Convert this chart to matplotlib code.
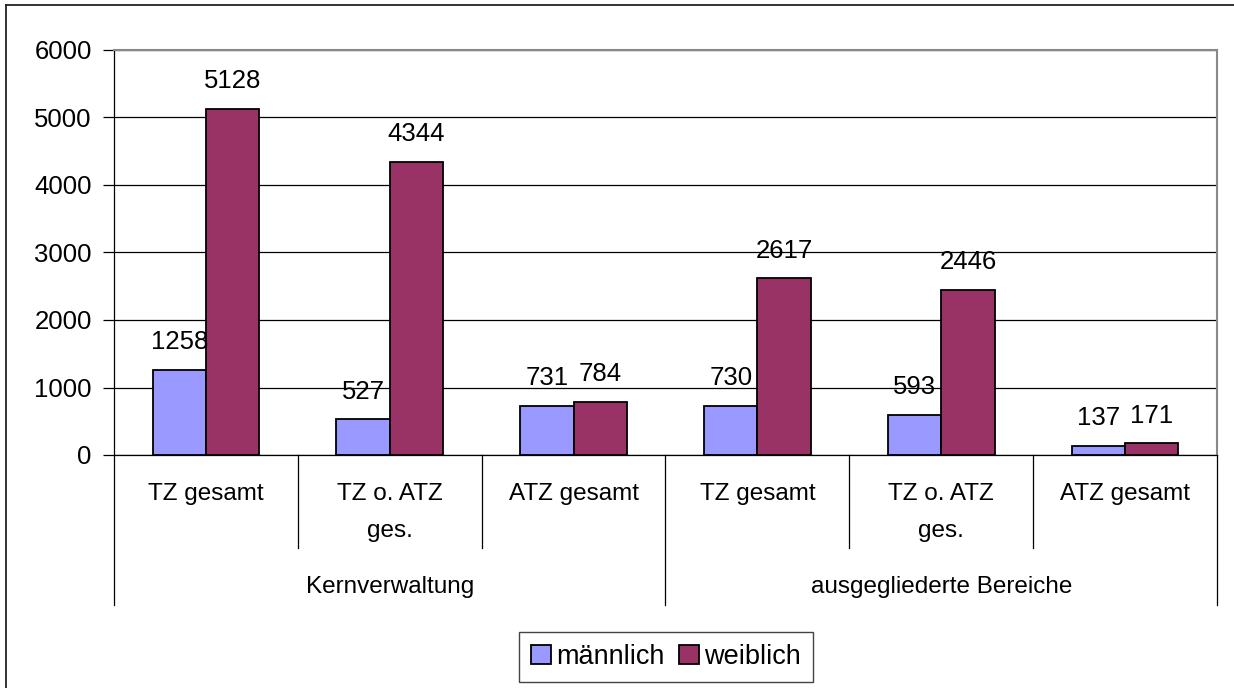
import numpy as np
import matplotlib.pyplot as plt
from matplotlib.lines import Line2D
from matplotlib.transforms import blended_transform_factory

plt.rcParams['font.family'] = ['Liberation Sans', 'DejaVu Sans']
plt.rcParams['font.size'] = 17.5

# data
categories = ['TZ gesamt', 'TZ o. ATZ\nges.', 'ATZ gesamt',
              'TZ gesamt', 'TZ o. ATZ\nges.', 'ATZ gesamt']
groups = ['Kernverwaltung', 'ausgegliederte Bereiche']
maennlich = [1258, 527, 731, 730, 593, 137]
weiblich = [5128, 4344, 784, 2617, 2446, 171]
yticks = [0, 1000, 2000, 3000, 4000, 5000, 6000]

W, H = 1234, 688
fig = plt.figure(figsize=(W / 100, H / 100), dpi=100)

def px(x0, y0, x1, y1):
    return [x0 / W, 1 - y1 / H, (x1 - x0) / W, (y1 - y0) / H]

ax = fig.add_axes(px(114, 50, 1217, 455))

x = np.arange(len(categories))
bw = 0.29
b1 = ax.bar(x - bw / 2, maennlich, bw, color='#9999FF', edgecolor='black', linewidth=1.3, label='männlich', zorder=3)
b2 = ax.bar(x + bw / 2, weiblich, bw, color='#993366', edgecolor='black', linewidth=1.3, label='weiblich', zorder=3)

num_size = 18.5
for bars, vals in ((b1, maennlich), (b2, weiblich)):
    for r, v in zip(bars, vals):
        ax.annotate(str(v), (r.get_x() + r.get_width() / 2, v), xytext=(0, 15),
                    textcoords='offset points', ha='center', va='baseline', fontsize=num_size)

ax.set_xlim(-0.5, len(categories) - 0.5)
ax.set_ylim(0, 6000)
ax.set_yticks(yticks)
ax.yaxis.grid(True, color='black', linewidth=0.9, zorder=0)
ax.set_axisbelow(True)
ax.tick_params(axis='y', length=8, width=0.9, pad=8, direction='out', labelsize=num_size)
ax.set_xticks([])
for s in ('top', 'right'):
    ax.spines[s].set_color('#888888')
    ax.spines[s].set_linewidth(1.5)
for s in ('left', 'bottom'):
    ax.spines[s].set_color('black')
    ax.spines[s].set_linewidth(0.9)

# multi-level category axis
tr = blended_transform_factory(ax.transData, ax.transAxes)
for i in range(len(categories) + 1):
    xb = i - 0.5
    y_end = -0.37 if i % 3 == 0 else -0.23
    ax.add_line(Line2D([xb, xb], [0, y_end], transform=tr, color='black',
                       linewidth=0.9, clip_on=False))
for i, lab in enumerate(categories):
    ax.text(i, -0.07, lab, transform=tr, ha='center', va='top', linespacing=1.85)
for g, lab in enumerate(groups):
    ax.text(3 * g + 1, -0.325, lab, transform=tr, ha='center', va='center')

fig.legend(handles=[b1, b2], loc='center', bbox_to_anchor=(666 / W, 1 - 657 / H), ncol=2,
           frameon=True, fancybox=False, edgecolor='#444444', framealpha=1,
           fontsize=19.5, handlelength=0.75, handleheight=0.75, handletextpad=0.2,
           columnspacing=0.5, borderpad=0.45, borderaxespad=0)

# chart area frame (top and left edges visible)
fig.add_artist(Line2D([6 / W, 1], [1 - 5 / H, 1 - 5 / H], transform=fig.transFigure, color='#222222', linewidth=1.3))
fig.add_artist(Line2D([6 / W, 6 / W], [0, 1 - 5 / H], transform=fig.transFigure, color='#222222', linewidth=1.3))

fig.savefig('out.png', dpi=100)
